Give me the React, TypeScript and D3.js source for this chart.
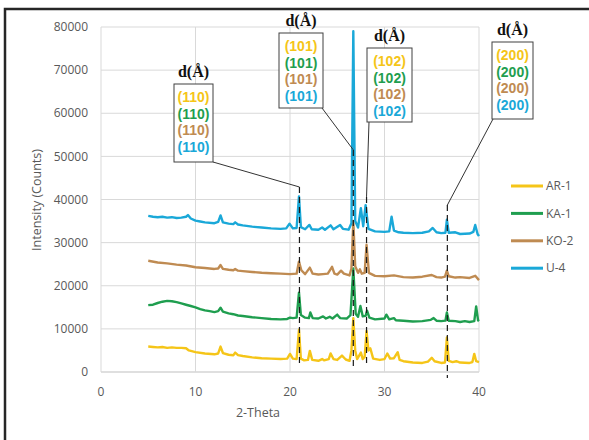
import * as d3 from "d3";

// 2-theta / intensity pairs
const ar1: [number, number][] = [
  [5, 5900], [5.5, 5800], [6, 5700], [6.5, 5800], [7, 5600], [7.5, 5700], [8, 5600], [8.5, 5600],
  [9, 5500], [9.3, 5000], [10, 4600], [11, 4300], [12, 4100], [12.4, 4300], [12.65, 5900], [12.9, 4400],
  [13.5, 4000], [14, 3900], [14.2, 4500], [14.5, 3900], [15, 3700], [16, 3400], [17, 3200], [18, 3100],
  [19, 3000], [19.7, 3100], [20, 4200], [20.3, 3100], [20.7, 3000], [20.95, 9800], [21.15, 3100],
  [21.5, 2700], [21.9, 2800], [22.1, 4900], [22.35, 2800], [23, 2600], [23.4, 3000], [23.6, 2700],
  [24.1, 3000], [24.3, 4300], [24.6, 3000], [25, 2800], [25.5, 3800], [25.9, 2900], [26.3, 2600],
  [26.5, 5000], [26.7, 12500], [26.9, 5000], [27.1, 3000], [27.5, 4500], [27.7, 3000], [27.9, 3500],
  [28.1, 9500], [28.3, 5000], [28.5, 5500], [28.8, 3100], [29.5, 2800], [30, 3000], [30.3, 4300],
  [30.6, 3100], [31, 3200], [31.4, 4600], [31.6, 2800], [32, 2500], [33, 2200], [34, 2100], [34.6, 2400],
  [35, 3300], [35.3, 2500], [36, 2100], [36.4, 2200], [36.6, 8000], [36.8, 2600], [37.2, 2300],
  [37.6, 2500], [38, 2200], [39, 2100], [39.3, 2300], [39.5, 4200], [39.7, 2500], [40, 2300],
];

const ka1: [number, number][] = [
  [5, 15500], [5.5, 15600], [6, 16000], [6.5, 16300], [7, 16500], [7.5, 16400], [8, 16200], [8.5, 15900],
  [9, 15600], [9.5, 15300], [10, 15000], [10.5, 14600], [11, 14300], [11.5, 14100], [12, 13900],
  [12.4, 14100], [12.65, 14900], [12.9, 14000], [13.5, 13600], [14, 13400], [14.5, 13100], [15, 13000],
  [16, 12700], [17, 12500], [18, 12300], [19, 12200], [19.7, 12300], [20, 12600], [20.3, 12500],
  [20.7, 12600], [20.95, 18400], [21.15, 13200], [21.6, 12600], [22, 12500], [22.15, 13800], [22.4, 12500],
  [23, 12400], [23.5, 12900], [23.8, 12400], [24.2, 12800], [24.5, 12400], [25, 13300], [25.3, 12500],
  [26, 12400], [26.4, 13200], [26.7, 24000], [26.95, 13500], [27.2, 12800], [27.45, 15300], [27.7, 12900],
  [28, 13000], [28.15, 14200], [28.4, 12600], [29, 12200], [30, 12400], [30.2, 13300], [30.5, 12200],
  [31, 12500], [31.2, 12000], [32, 11900], [33, 11700], [34, 11800], [34.9, 12100], [35.2, 12500],
  [35.5, 11900], [36, 11800], [36.45, 11900], [36.6, 13800], [36.8, 11900], [37.5, 11800], [38, 11600],
  [38.5, 11800], [39, 11600], [39.5, 11800], [39.7, 15200], [39.9, 12000], [40, 11800],
];

const ko2: [number, number][] = [
  [5, 25800], [6, 25400], [7, 25200], [8, 24900], [9, 24700], [10, 24300], [11, 24100], [12, 23900],
  [12.4, 24000], [12.65, 24800], [12.9, 23900], [13.5, 23700], [14, 23600], [14.2, 23900], [14.5, 23500],
  [15, 23400], [16, 23200], [17, 23000], [18, 22900], [19, 22800], [20, 22700], [20.7, 22800],
  [20.95, 25600], [21.2, 23600], [21.6, 22700], [22.1, 24200], [22.4, 22800], [23, 22600], [23.5, 22700],
  [24, 22800], [24.45, 24400], [24.7, 22800], [25, 22600], [25.4, 23500], [25.7, 22800], [26.3, 22400],
  [26.5, 24000], [26.7, 35000], [26.9, 24500], [27.2, 23000], [27.4, 23800], [27.6, 22800], [27.9, 23000],
  [28.1, 29500], [28.35, 23000], [29, 22300], [30, 22200], [31, 22400], [32, 22000], [33, 21900],
  [34, 22100], [35, 22500], [35.5, 22000], [36, 21900], [36.4, 22100], [36.6, 23500], [36.8, 22200],
  [37.5, 21900], [38, 22000], [39, 21800], [39.6, 22300], [40, 21300],
];

const u4: [number, number][] = [
  [5, 36200], [5.5, 36000], [6, 35900], [6.5, 36000], [7, 35800], [7.5, 35900], [8, 35700], [8.5, 35800],
  [9, 36000], [9.2, 36400], [9.5, 35600], [10, 35100], [10.5, 34900], [11, 34700], [12, 34500],
  [12.4, 34800], [12.65, 36300], [12.9, 34700], [13.5, 34400], [14, 34300], [14.2, 34700], [14.5, 34200],
  [15, 34000], [16, 33700], [17, 33500], [18, 33300], [19, 33200], [19.6, 33300], [19.95, 34400],
  [20.3, 33300], [20.7, 33400], [20.95, 40700], [21.15, 33600], [21.6, 33100], [22.05, 34100],
  [22.3, 33100], [23, 33000], [23.4, 33500], [23.7, 33000], [24.3, 34000], [24.6, 33100], [25.3, 34100],
  [25.6, 33200], [26.2, 33000], [26.5, 34500], [26.7, 79000], [26.9, 35000], [27.2, 33500], [27.5, 38000],
  [27.75, 33800], [28, 38700], [28.3, 33200], [29, 32600], [30, 32500], [30.5, 32600], [30.75, 36000],
  [31, 32800], [31.5, 32400], [32, 32300], [33, 32200], [34, 32300], [34.7, 32600], [35.1, 33400],
  [35.5, 32400], [36, 32200], [36.45, 32300], [36.6, 35300], [36.8, 32300], [37.5, 32400], [38, 32000],
  [39, 32100], [39.4, 32500], [39.6, 34100], [39.85, 32000], [40, 31500],
];

const seriesNames = ["AR-1", "KA-1", "KO-2", "U-4"];
const seriesData = [ar1, ka1, ko2, u4];
const seriesColors = ["#f5c518", "#1f9e4f", "#bf8b52", "#1aa8d8"];

const xTicks = [0, 10, 20, 30, 40];
const yTicks = [0, 10000, 20000, 30000, 40000, 50000, 60000, 70000, 80000];

// reflections marked with dashed lines: 2-theta, top of the dashed line (counts), hkl label
const peakTheta = [21.0, 26.7, 28.1, 36.65];
const peakTop = [42900, 51500, 40600, 38700];
const peakHkl = ["(110)", "(101)", "(102)", "(200)"];

// label boxes (pixels): left, top, width, height, leader start
const boxes = [
  { x: 174, y: 84, w: 39, h: 78, lx: 213, ly: 162 },
  { x: 279, y: 33, w: 44, h: 75, lx: 322, ly: 108 },
  { x: 367, y: 48, w: 45, h: 74, lx: 369, ly: 122 },
  { x: 492, y: 42, w: 41, h: 77, lx: 493, ly: 119 },
];

const W = 589;
const H = 440;
const plot = { left: 101, right: 479, top: 27, bottom: 372 };

export default function App() {
  const x = d3.scaleLinear().domain([0, 40]).range([plot.left, plot.right]);
  const y = d3.scaleLinear().domain([0, 80000]).range([plot.bottom, plot.top]);
  const line = d3
    .line<[number, number]>()
    .x((d) => x(d[0]))
    .y((d) => y(d[1]));

  const font = "'Open Sans', 'Liberation Sans', sans-serif";

  return (
    <svg
      width={W}
      height={H}
      style={{ position: "absolute", left: 0, top: 0, background: "#fff" }}
      fontFamily={font}
    >
      <rect x={0} y={0} width={W} height={H} fill="#fff" />
      {/* outer frame, only left and top edges are visible */}
      <rect x={5} y={9} width={700} height={600} fill="none" stroke="#262626" strokeWidth={2.5} />

      {/* gridlines */}
      {yTicks.map((t) => (
        <line key={"gy" + t} x1={plot.left} x2={plot.right} y1={y(t)} y2={y(t)}
          stroke={t === 0 ? "#bfbfbf" : "#d9d9d9"} strokeWidth={1} />
      ))}
      {xTicks.map((t) => (
        <line key={"gx" + t} x1={x(t)} x2={x(t)} y1={plot.top} y2={plot.bottom}
          stroke="#d9d9d9" strokeWidth={1} />
      ))}

      {/* tick labels */}
      {yTicks.map((t) => (
        <text key={"ty" + t} x={88} y={y(t)} dy="0.35em" textAnchor="end" fontSize={12} fill="#595959">
          {t}
        </text>
      ))}
      {xTicks.map((t) => (
        <text key={"tx" + t} x={x(t)} y={392} dy="0.35em" textAnchor="middle" fontSize={12} fill="#595959">
          {t}
        </text>
      ))}
      <text x={258} y={413} dy="0.35em" textAnchor="middle" fontSize={12.5} fill="#595959">
        2-Theta
      </text>
      <text transform="translate(37,200) rotate(-90)" dy="0.35em" textAnchor="middle" fontSize={12.5} fill="#595959">
        Intensity (Counts)
      </text>

      {/* series */}
      {seriesData.map((d, i) => (
        <path key={seriesNames[i]} d={line(d) ?? ""} fill="none" stroke={seriesColors[i]}
          strokeWidth={2.4} strokeLinejoin="round" />
      ))}

      {/* dashed markers and leader lines */}
      {peakTheta.map((t, i) => (
        <g key={"pk" + i}>
          <line x1={x(t)} x2={x(t)} y1={y(peakTop[i])} y2={i === 3 ? 378 : 367}
            stroke="#1a1a1a" strokeWidth={1.2} strokeDasharray="6,4" />
          <line x1={boxes[i].lx} y1={boxes[i].ly} x2={x(t)} y2={y(peakTop[i])}
            stroke="#333" strokeWidth={1} />
        </g>
      ))}

      {/* label boxes */}
      {boxes.map((b, i) => (
        <g key={"box" + i}>
          <text x={b.x + b.w / 2} y={b.y - 7} textAnchor="middle" fontSize={16} fontWeight="bold"
            fontFamily="'Liberation Serif', 'DejaVu Serif', serif" fill="#111">
            d(Å)
          </text>
          <rect x={b.x} y={b.y} width={b.w} height={b.h} fill="#fff" stroke="#404040" strokeWidth={1} />
          {seriesColors.map((c, j) => (
            <text key={j} x={b.x + b.w / 2} y={b.y + 13 + j * 16.7} dy="0.35em" textAnchor="middle"
              fontSize={14} fontWeight="bold" fontFamily="'Liberation Sans', Arial, sans-serif" fill={c}>
              {peakHkl[i]}
            </text>
          ))}
        </g>
      ))}

      {/* legend */}
      {seriesNames.map((n, i) => (
        <g key={"lg" + n} transform={`translate(0,${186 + i * 27.4})`}>
          <line x1={511} x2={543} y1={0} y2={0} stroke={seriesColors[i]} strokeWidth={3} />
          <text x={546} y={0} dy="0.35em" fontSize={12} fill="#595959">
            {n}
          </text>
        </g>
      ))}
    </svg>
  );
}
